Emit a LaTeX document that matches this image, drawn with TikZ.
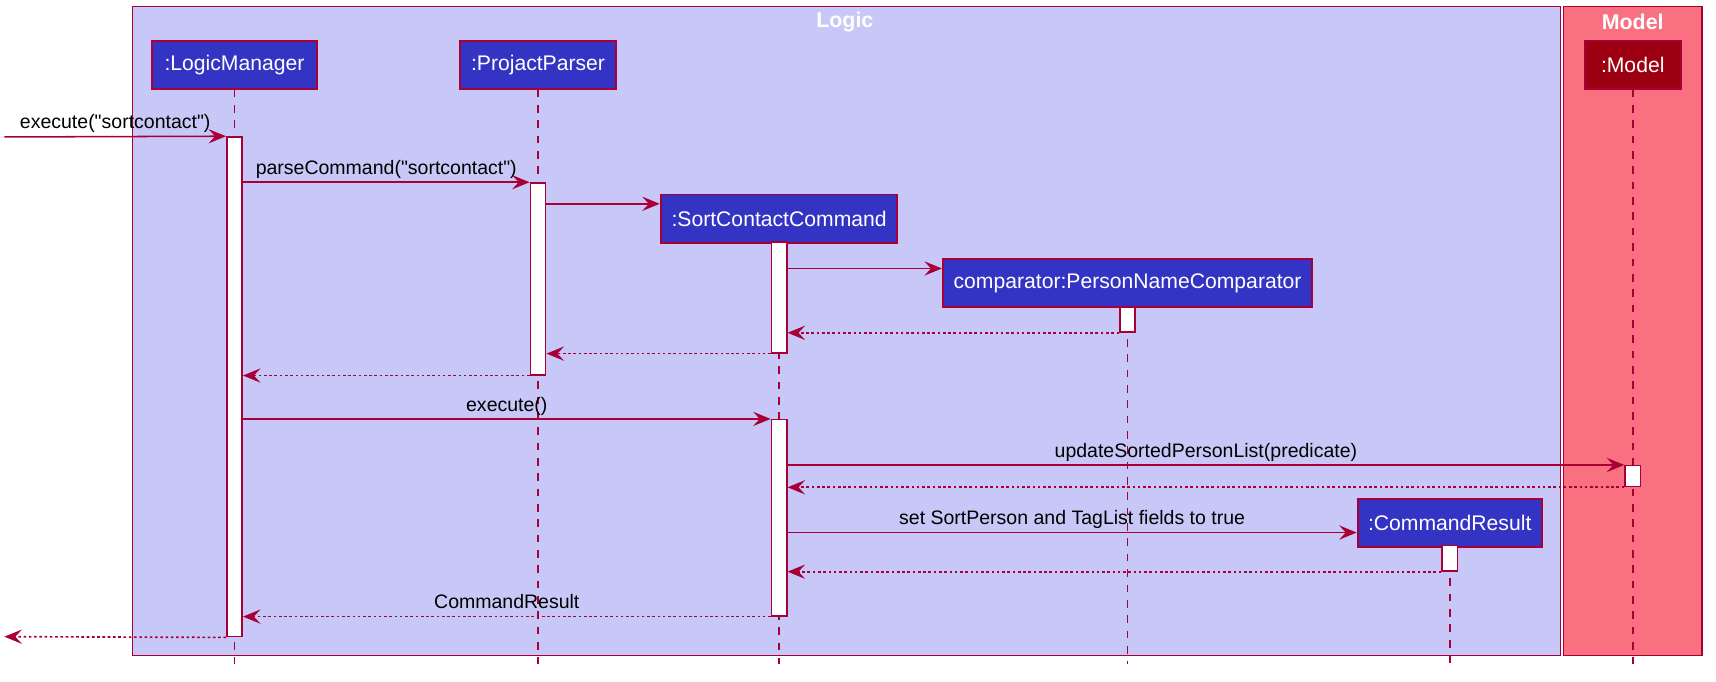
\documentclass[tikz,border=0pt]{standalone}
\usepackage{fontspec}
\setmainfont{Liberation Sans}[Ligatures=TeXOff]
\usetikzlibrary{arrows.meta}
\definecolor{bd}{HTML}{A80036}
\definecolor{lgc}{HTML}{C8C8F8}
\definecolor{mdlc}{HTML}{F97181}
\definecolor{pfill}{HTML}{3434C4}
\definecolor{mfill}{HTML}{9D0012}
\tikzset{
  frm/.style={draw=bd, line width=1.4pt},
  ttl/.style={text=white, font=\bfseries\fontsize{19.5}{22}\selectfont, inner sep=0pt},
  part/.style={draw=bd, line width=1.8pt, fill=pfill, text=white, font=\fontsize{19.3}{22}\selectfont, inner sep=0pt, minimum height=44pt},
  act/.style={draw=bd, line width=1.4pt, fill=white, minimum width=14pt, inner sep=0pt},
  life/.style={draw=bd, line width=1.4pt, dash pattern=on 7pt off 7pt},
  msg/.style={draw=bd, line width=1.4pt, -{Stealth[length=16pt,width=13pt,inset=6pt]}},
  ret/.style={msg, line width=1.5pt, dash pattern=on 2.4pt off 2.4pt},
  lbl/.style={font=\fontsize{17.8}{20}\selectfont, text=black, inner sep=0pt, anchor=south, text depth=4pt, yshift=2.5pt}
}
\begin{document}
\begin{tikzpicture}[x=1pt, y=-1pt]
\useasboundingbox (0,0) rectangle (1566,621.5);
% frames
\draw[frm, fill=lgc] (121,6) rectangle (1424,598);
\draw[frm, fill=mdlc] (1427,6) rectangle (1553,598);
\node[ttl] (tlogic) at (771,20) {Logic};
\node[ttl] (tmodel) at (1490,20) {Model};
% participants
\node[part, minimum width=150pt] (lm) at (214,59) {:LogicManager};
\node[part, minimum width=143pt] (pp) at (491,59) {:ProjactParser};
\node[part, minimum width=216pt] (scc) at (711,199.5) {:SortContactCommand};
\node[part, minimum width=337pt] (cmp) at (1029,258.5) {comparator:PersonNameComparator};
\node[part, minimum width=168pt] (cr) at (1323,477) {:CommandResult};
\node[part, minimum width=88pt, fill=mfill] (md) at (1490,59) {:Model};
% lifelines
\coordinate (endy) at (0,606);
\draw[life] (lm.south) -- (lm.south |- endy);
\draw[life] (pp.south) -- (pp.south |- endy);
\draw[life] (scc.south) -- (scc.south |- endy);
\draw[life] (cmp.south) -- (cmp.south |- endy);
\draw[life] (cr.south) -- (cr.south |- endy);
\draw[life] (md.south) -- (md.south |- endy);
% activations
\node[act, minimum height=456pt] (lma) at (214,353) {};
\node[act, minimum height=175pt] (ppa) at (491,254.5) {};
\node[act, minimum height=101pt] (scca1) at (711,271.5) {};
\node[act, minimum height=179pt] (scca2) at (711,472.5) {};
\node[act, minimum height=23pt] (cmpa) at (1029,291.5) {};
\node[act, minimum height=19pt] (mda) at (1490,434.5) {};
\node[act, minimum height=23pt] (cra) at (1323,509.5) {};
% free ends
\coordinate (src) at (4,125);
\coordinate (dst) at (4,581);
\coordinate (c3) at (498,186);
\coordinate (c4) at (718,245);
\coordinate (c11) at (718,486);
% messages
\draw[msg] (src) -- node[lbl]{execute("sortcontact")} (lma.north west);
\draw[msg] (lma.east |- ppa.north) -- node[lbl]{parseCommand("sortcontact")} (ppa.north west);
\draw[msg] (ppa.east |- c3) -- (scc.west |- c3);
\draw[msg] (scca1.east |- c4) -- (cmp.west |- c4);
\draw[ret] (cmpa.south west) -- (scca1.east |- cmpa.south);
\draw[ret] (scca1.south west) -- (ppa.east |- scca1.south);
\draw[ret] (ppa.south west) -- (lma.east |- ppa.south);
\draw[msg] (lma.east |- scca2.north) -- node[lbl]{execute()} (scca2.north west);
\draw[msg] (scca2.east |- mda.north) -- node[lbl]{updateSortedPersonList(predicate)} (mda.north west);
\draw[ret] (mda.south west) -- (scca2.east |- mda.south);
\draw[msg] (scca2.east |- c11) -- node[lbl]{set SortPerson and TagList fields to true} (cr.west |- c11);
\draw[ret] (cra.south west) -- (scca2.east |- cra.south);
\draw[ret] (scca2.south west) -- node[lbl]{CommandResult} (lma.east |- scca2.south);
\draw[ret] (lma.south west) -- (dst);
\end{tikzpicture}
\end{document}
